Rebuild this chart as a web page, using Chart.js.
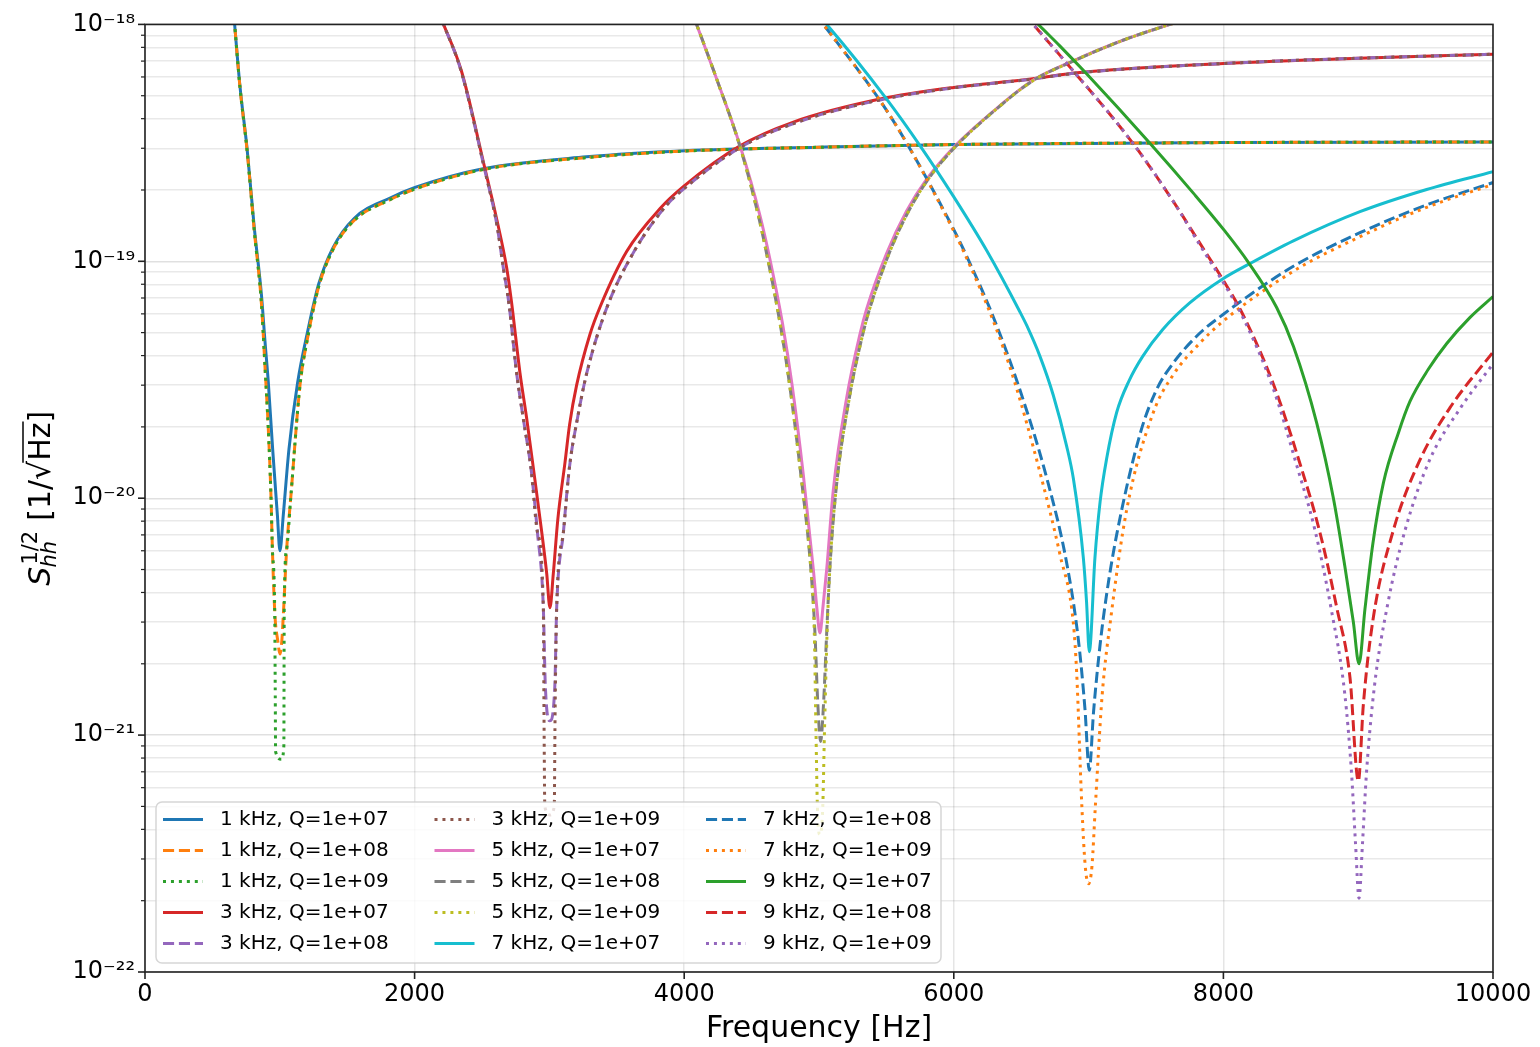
<!DOCTYPE html>
<html>
<head>
<meta charset="utf-8">
<title>Strain sensitivity of resonant modes</title>
<script src="https://cdn.jsdelivr.net/npm/chart.js@4.4.1/dist/chart.umd.min.js"></script>
<style>
  html, body { margin: 0; padding: 0; background: #ffffff; }
  #wrap { position: relative; width: 1540px; height: 1047px; }
  canvas { display: block; }
</style>
</head>
<body>
<div id="wrap"><canvas id="chart" width="1540" height="1047"></canvas></div>
<script>
// ---------------- data ----------------
const xTickValues = [0, 2000, 4000, 6000, 8000, 10000];
const yMajorValues = [1e-22, 1e-21, 1e-20, 1e-19, 1e-18];
const seriesLabels = [
  '1 kHz, Q=1e+07', '1 kHz, Q=1e+08', '1 kHz, Q=1e+09',
  '3 kHz, Q=1e+07', '3 kHz, Q=1e+08', '3 kHz, Q=1e+09',
  '5 kHz, Q=1e+07', '5 kHz, Q=1e+08', '5 kHz, Q=1e+09',
  '7 kHz, Q=1e+07', '7 kHz, Q=1e+08', '7 kHz, Q=1e+09',
  '9 kHz, Q=1e+07', '9 kHz, Q=1e+08', '9 kHz, Q=1e+09'
];

// 1 kHz
const f1k_q7 = [600, 640, 665, 705, 757, 811, 864, 890, 915, 947, 982, 1001, 1026, 1068, 1132, 1208, 1288, 1394, 1553, 1818, 2003, 2507, 3274, 4003, 5000, 6000, 8000, 10000];
const s1k_q7 = [2.4e-18, 1.5e-18, 1.0e-18, 5.45e-19, 3.0e-19, 1.38e-19, 7.2e-20, 4.6e-20, 3.07e-20, 1.61e-20, 8.5e-21, 6.0e-21, 8.5e-21, 1.61e-20, 3.07e-20, 5.1e-20, 8.0e-20, 1.14e-19, 1.52e-19, 1.85e-19, 2.05e-19, 2.46e-19, 2.76e-19, 2.93e-19, 3.03e-19, 3.11e-19, 3.17e-19, 3.19e-19];
const f1k_q8 = [600, 640, 665, 705, 757, 811, 864, 890, 917, 935, 945, 964, 985, 1001, 1015, 1026, 1051, 1081, 1150, 1208, 1288, 1394, 1553, 1818, 2003, 2507, 3274, 4003, 5000, 6000, 8000, 10000];
const s1k_q8 = [2.4e-18, 1.5e-18, 1.0e-18, 5.4e-19, 2.95e-19, 1.34e-19, 6.6e-20, 3.6e-20, 1.84e-20, 1.0e-20, 6.1e-21, 3.2e-21, 2.5e-21, 2.2e-21, 2.5e-21, 3.2e-21, 6.1e-21, 1.0e-20, 3.0e-20, 4.8e-20, 7.8e-20, 1.12e-19, 1.49e-19, 1.82e-19, 2.02e-19, 2.44e-19, 2.74e-19, 2.92e-19, 3.03e-19, 3.11e-19, 3.17e-19, 3.19e-19];
const f1k_q9 = [600, 640, 665, 705, 757, 811, 864, 890, 917, 935, 945, 962, 966, 969, 1012, 1030, 1033, 1051, 1081, 1150, 1208, 1288, 1394, 1553, 1818, 2003, 2507, 3274, 4003, 5000, 6000, 8000, 10000];
const s1k_q9 = [2.4e-18, 1.5e-18, 1.0e-18, 5.4e-19, 2.95e-19, 1.34e-19, 6.6e-20, 3.6e-20, 1.84e-20, 1.0e-20, 6.1e-21, 3.4e-21, 1.6e-21, 8.5e-22, 7.9e-22, 9.0e-22, 3.6e-21, 6.1e-21, 1.0e-20, 3.0e-20, 4.8e-20, 7.8e-20, 1.12e-19, 1.49e-19, 1.82e-19, 2.02e-19, 2.44e-19, 2.74e-19, 2.92e-19, 3.03e-19, 3.11e-19, 3.17e-19, 3.19e-19];

// 3 kHz
const f3k_q7 = [2100, 2215, 2347, 2519, 2611, 2683, 2718, 2782, 2830, 2881, 2943, 2980, 3004, 3029, 3063, 3116, 3150, 3202, 3300, 3375, 3573, 3821, 4000, 4414, 4810, 5453, 6000, 6541, 6936, 8000, 9000, 10000];
const s3k_q7 = [1.45e-18, 1.0e-18, 6.37e-19, 2.5e-19, 1.49e-19, 9.4e-20, 6.8e-20, 3.37e-20, 2.2e-20, 1.34e-20, 7.2e-21, 4.81e-21, 3.45e-21, 4.8e-21, 8.2e-21, 1.42e-20, 2.05e-20, 3.0e-20, 4.9e-20, 6.4e-20, 1.1e-19, 1.67e-19, 2.08e-19, 3.07e-19, 3.87e-19, 4.84e-19, 5.42e-19, 5.85e-19, 6.26e-19, 6.84e-19, 7.2e-19, 7.48e-19];
const f3k_q8 = [2100, 2215, 2347, 2519, 2611, 2658, 2700, 2757, 2810, 2863, 2911, 2955, 2970, 3004, 3040, 3054, 3104, 3148, 3210, 3277, 3425, 3620, 3860, 4031, 4440, 4830, 5453, 6000, 6541, 6936, 8000, 9000, 10000];
const s3k_q8 = [1.45e-18, 1.0e-18, 6.3e-19, 2.45e-19, 1.42e-19, 9.4e-20, 6.6e-20, 3.37e-20, 2.1e-20, 1.34e-20, 7.2e-21, 3.45e-21, 1.6e-21, 1.15e-21, 1.6e-21, 3.45e-21, 7.2e-21, 1.34e-20, 2.2e-20, 3.37e-20, 6.35e-20, 1.08e-19, 1.7e-19, 2.1e-19, 3.08e-19, 3.85e-19, 4.8e-19, 5.4e-19, 5.84e-19, 6.25e-19, 6.84e-19, 7.2e-19, 7.48e-19];
const f3k_q9 = [2100, 2215, 2347, 2519, 2611, 2658, 2700, 2757, 2810, 2863, 2911, 2955, 2960, 2966, 3004, 3036, 3042, 3054, 3104, 3148, 3210, 3277, 3425, 3620, 3860, 4031, 4440, 4830, 5453, 6000, 6541, 6936, 8000, 9000, 10000];
const s3k_q9 = [1.45e-18, 1.0e-18, 6.3e-19, 2.45e-19, 1.42e-19, 9.4e-20, 6.6e-20, 3.37e-20, 2.1e-20, 1.34e-20, 7.2e-21, 3.45e-21, 1.2e-21, 5.0e-22, 4.6e-22, 5.0e-22, 1.2e-21, 3.45e-21, 7.2e-21, 1.34e-20, 2.2e-20, 3.37e-20, 6.35e-20, 1.08e-19, 1.7e-19, 2.1e-19, 3.08e-19, 3.85e-19, 4.8e-19, 5.4e-19, 5.84e-19, 6.25e-19, 6.84e-19, 7.2e-19, 7.48e-19];

// 5 kHz
const f5k_q7 = [3950, 4092, 4241, 4414, 4562, 4636, 4730, 4800, 4884, 4958, 4985, 5007, 5030, 5057, 5106, 5205, 5304, 5353, 5502, 5650, 5799, 6000, 6293, 6590, 6887, 7250, 7604, 7900];
const s5k_q7 = [1.62e-18, 1.0e-18, 5.88e-19, 3.08e-19, 1.56e-19, 1.02e-19, 5.43e-20, 3.01e-20, 1.25e-20, 5.0e-21, 3.4e-21, 2.7e-21, 3.5e-21, 5.0e-21, 1.08e-20, 2.65e-20, 4.93e-20, 6.28e-20, 1.08e-19, 1.63e-19, 2.22e-19, 3.03e-19, 4.3e-19, 5.82e-19, 7.02e-19, 8.55e-19, 1.0e-18, 1.12e-18];
const f5k_q8 = [3950, 4092, 4241, 4414, 4550, 4620, 4712, 4782, 4866, 4940, 4970, 4990, 5012, 5035, 5057, 5080, 5126, 5225, 5325, 5375, 5520, 5665, 5810, 6008, 6293, 6590, 6887, 7250, 7604, 7900];
const s5k_q8 = [1.62e-18, 1.0e-18, 5.88e-19, 3.05e-19, 1.56e-19, 1.02e-19, 5.43e-20, 3.01e-20, 1.25e-20, 5.0e-21, 2.7e-21, 1.4e-21, 9.4e-22, 1.4e-21, 2.7e-21, 5.0e-21, 1.08e-20, 2.65e-20, 4.93e-20, 6.28e-20, 1.08e-19, 1.63e-19, 2.22e-19, 3.03e-19, 4.28e-19, 5.8e-19, 7.0e-19, 8.55e-19, 1.0e-18, 1.12e-18];
const f5k_q9 = [3950, 4092, 4241, 4414, 4550, 4620, 4712, 4782, 4866, 4940, 4965, 4978, 4988, 5005, 5028, 5040, 5060, 5080, 5126, 5225, 5325, 5375, 5520, 5665, 5810, 6008, 6293, 6590, 6887, 7250, 7604, 7900];
const s5k_q9 = [1.62e-18, 1.0e-18, 5.88e-19, 3.05e-19, 1.56e-19, 1.02e-19, 5.43e-20, 3.01e-20, 1.25e-20, 5.0e-21, 2.7e-21, 1.0e-21, 5.0e-22, 3.8e-22, 5.0e-22, 1.0e-21, 2.7e-21, 5.0e-21, 1.08e-20, 2.65e-20, 4.93e-20, 6.28e-20, 1.08e-19, 1.63e-19, 2.22e-19, 3.03e-19, 4.28e-19, 5.8e-19, 7.0e-19, 8.55e-19, 1.0e-18, 1.12e-18];

// 7 kHz
const f7k_q7 = [4900, 5057, 5502, 5749, 6000, 6244, 6491, 6541, 6640, 6738, 6837, 6887, 6961, 6985, 7005, 7047, 7085, 7134, 7208, 7300, 7400, 7550, 7750, 8000, 8185, 8519, 9013, 9508, 10000];
const s7k_q7 = [1.25e-18, 1.0e-18, 4.84e-19, 3.08e-19, 1.87e-19, 1.11e-19, 6.11e-20, 5.36e-20, 3.96e-20, 2.72e-20, 1.66e-20, 1.21e-20, 5.6e-21, 3.63e-21, 2.25e-21, 5.6e-21, 9.62e-21, 1.47e-20, 2.3e-20, 3.13e-20, 3.96e-20, 5.15e-20, 6.67e-20, 8.46e-20, 9.7e-20, 1.22e-19, 1.62e-19, 2.01e-19, 2.39e-19];
const f7k_q8 = [4900, 5032, 5457, 5650, 6000, 6096, 6293, 6491, 6689, 6837, 6924, 6973, 7005, 7037, 7085, 7134, 7208, 7381, 7500, 7628, 7826, 8000, 8173, 8519, 9013, 9508, 10000];
const s7k_q8 = [1.25e-18, 1.0e-18, 4.73e-19, 3.16e-19, 1.36e-19, 1.05e-19, 5.82e-20, 2.86e-20, 1.22e-20, 5.34e-21, 2.53e-21, 1.29e-21, 7.1e-22, 1.26e-21, 2.4e-21, 3.94e-21, 7.0e-21, 1.86e-20, 2.84e-20, 3.72e-20, 4.98e-20, 5.98e-20, 7.06e-20, 9.53e-20, 1.32e-19, 1.73e-19, 2.15e-19];
const f7k_q9 = [4900, 5032, 5457, 5650, 6000, 6096, 6293, 6442, 6640, 6788, 6887, 6911, 6950, 6975, 7000, 7025, 7050, 7100, 7165, 7282, 7480, 7628, 7826, 8000, 8519, 9013, 9508, 10000];
const s7k_q9 = [1.25e-18, 1.0e-18, 4.73e-19, 3.16e-19, 1.34e-19, 1.03e-19, 5.6e-20, 3.22e-20, 1.28e-20, 5.77e-21, 2.96e-21, 1.86e-21, 5.0e-22, 2.8e-22, 2.36e-22, 2.8e-22, 5.0e-22, 1.46e-21, 3.13e-21, 8.9e-21, 2.3e-20, 3.32e-20, 4.52e-20, 5.6e-20, 9.08e-20, 1.27e-19, 1.69e-19, 2.11e-19];

// 9 kHz
const f9k_q7 = [6480, 6627, 6788, 6973, 7455, 7777, 8007, 8185, 8395, 8520, 8692, 8816, 8900, 8964, 9006, 9050, 9110, 9187, 9300, 9384, 9520, 9657, 9830, 10000];
const s9k_q7 = [1.22e-18, 1.0e-18, 8.1e-19, 6.29e-19, 3.15e-19, 1.94e-19, 1.35e-19, 9.9e-20, 6.38e-20, 4.37e-20, 2.08e-20, 1.0e-20, 5.2e-21, 3.0e-21, 2.0e-21, 3.4e-21, 6.5e-21, 1.16e-20, 1.9e-20, 2.56e-20, 3.5e-20, 4.5e-20, 5.8e-20, 7.1e-20];
const f9k_q8 = [6450, 6590, 6788, 7332, 7628, 7826, 8007, 8135, 8370, 8568, 8717, 8841, 8939, 9001, 9038, 9112, 9260, 9458, 9681, 10000];
const s9k_q8 = [1.25e-18, 1.0e-18, 7.4e-19, 3.13e-19, 1.79e-19, 1.19e-19, 8.17e-20, 6.11e-20, 3.04e-20, 1.4e-20, 7.13e-21, 3.45e-21, 1.75e-21, 6.4e-22, 1.34e-21, 3.13e-21, 7.3e-21, 1.45e-20, 2.41e-20, 4.14e-20];
const f9k_q9 = [6450, 6590, 6788, 7332, 7628, 7826, 8007, 8135, 8370, 8540, 8680, 8800, 8900, 8950, 8980, 9006, 9032, 9062, 9120, 9220, 9347, 9530, 9760, 10000];
const s9k_q9 = [1.25e-18, 1.0e-18, 7.4e-19, 3.13e-19, 1.79e-19, 1.17e-19, 8.0e-20, 5.95e-20, 2.9e-20, 1.4e-20, 7.3e-21, 3.4e-21, 1.5e-21, 7.0e-22, 3.5e-22, 2.05e-22, 3.5e-22, 7.0e-22, 1.6e-21, 3.6e-21, 7.3e-21, 1.45e-20, 2.41e-20, 3.69e-20];

const seriesData = [
  [f1k_q7, s1k_q7], [f1k_q8, s1k_q8], [f1k_q9, s1k_q9],
  [f3k_q7, s3k_q7], [f3k_q8, s3k_q8], [f3k_q9, s3k_q9],
  [f5k_q7, s5k_q7], [f5k_q8, s5k_q8], [f5k_q9, s5k_q9],
  [f7k_q7, s7k_q7], [f7k_q8, s7k_q8], [f7k_q9, s7k_q9],
  [f9k_q7, s9k_q7], [f9k_q8, s9k_q8], [f9k_q9, s9k_q9]
];

// ---------------- styles ----------------
const TAB = {
  blue: '#1f77b4', orange: '#ff7f0e', green: '#2ca02c', red: '#d62728', purple: '#9467bd',
  brown: '#8c564b', pink: '#e377c2', gray: '#7f7f7f', olive: '#bcbd22', cyan: '#17becf'
};
const SOLID = [], DASHED = [11.1, 4.8], DOTTED = [3, 4.95];
const seriesStyles = [
  {color: TAB.blue, dash: SOLID}, {color: TAB.orange, dash: DASHED}, {color: TAB.green, dash: DOTTED},
  {color: TAB.red, dash: SOLID}, {color: TAB.purple, dash: DASHED}, {color: TAB.brown, dash: DOTTED},
  {color: TAB.pink, dash: SOLID}, {color: TAB.gray, dash: DASHED}, {color: TAB.olive, dash: DOTTED},
  {color: TAB.cyan, dash: SOLID}, {color: TAB.blue, dash: DASHED}, {color: TAB.orange, dash: DOTTED},
  {color: TAB.green, dash: SOLID}, {color: TAB.red, dash: DASHED}, {color: TAB.purple, dash: DOTTED}
];

const FONT = '"DejaVu Sans", "Liberation Sans", sans-serif';
Chart.defaults.font.family = FONT;
Chart.defaults.color = '#000';

function isMajor(v) {
  const l = Math.log10(v);
  return Math.abs(l - Math.round(l)) < 1e-6;
}
const SUP = {'-': '\u207B', '0': '\u2070', '1': '\u00B9', '2': '\u00B2', '3': '\u00B3', '4': '\u2074',
             '5': '\u2075', '6': '\u2076', '7': '\u2077', '8': '\u2078', '9': '\u2079'};
function sup(n) { return String(n).split('').map(c => SUP[c] || c).join(''); }

const N = seriesLabels.length;
const datasets = seriesLabels.map((label, i) => ({
  label,
  data: seriesData[i][0].map((f, k) => ({x: f, y: seriesData[i][1][k]})),
  borderColor: seriesStyles[i].color,
  backgroundColor: seriesStyles[i].color,
  borderDash: seriesStyles[i].dash,
  borderWidth: 3,
  borderCapStyle: 'butt',
  borderJoinStyle: 'round',
  pointRadius: 0,
  pointHoverRadius: 0,
  fill: false,
  cubicInterpolationMode: 'monotone',
  tension: 0.4,
  order: N - i
}));

function drawLegend(chart) {
  const ctx = chart.ctx;
  const bx = 156, by = 802, bw = 785, bh = 161, br = 6;
  ctx.save();
  ctx.beginPath();
  if (ctx.roundRect) ctx.roundRect(bx, by, bw, bh, br); else ctx.rect(bx, by, bw, bh);
  ctx.fillStyle = 'rgba(255,255,255,0.8)';
  ctx.fill();
  ctx.lineWidth = 1.5;
  ctx.strokeStyle = 'rgba(204,204,204,0.8)';
  ctx.stroke();
  chart.data.datasets.forEach((ds, i) => {
    const col = Math.floor(i / 5), row = i % 5;
    const x0 = 163 + col * 271.5, y = 819.5 + row * 31;
    ctx.beginPath();
    ctx.setLineDash(ds.borderDash || []);
    ctx.lineCap = 'butt';
    ctx.strokeStyle = ds.borderColor;
    ctx.lineWidth = 3;
    ctx.moveTo(x0, y);
    ctx.lineTo(x0 + 40, y);
    ctx.stroke();
    ctx.setLineDash([]);
    ctx.fillStyle = '#000';
    ctx.font = '20px ' + FONT;
    ctx.textBaseline = 'middle';
    ctx.textAlign = 'left';
    ctx.fillText(ds.label, x0 + 57, y);
  });
  ctx.restore();
}

function drawYTitle(ctx, a) {
  const big = 30, small = 21;
  ctx.save();
  ctx.translate(50, (a.top + a.bottom) / 2);
  ctx.rotate(-Math.PI / 2);
  ctx.fillStyle = '#000';
  ctx.strokeStyle = '#000';
  ctx.textBaseline = 'alphabetic';
  ctx.textAlign = 'left';
  const fBig = big + 'px ' + FONT, fBigI = 'italic ' + big + 'px ' + FONT;
  const fSm = small + 'px ' + FONT, fSmI = 'italic ' + small + 'px ' + FONT;
  ctx.font = fBigI; const wS = ctx.measureText('S').width;
  ctx.font = fSm; const wSup = ctx.measureText('1/2').width;
  ctx.font = fSmI; const wSub = ctx.measureText('hh').width;
  ctx.font = fBig;
  const wOpen = ctx.measureText('[1/').width;
  const wRad = ctx.measureText('\u221A').width;
  const wHz = ctx.measureText('Hz').width;
  const wClose = ctx.measureText(']').width;
  const gap = 10;
  const total = wS + 2 + Math.max(wSup, wSub) + gap + wOpen + wRad + wHz + wClose;
  let u = -total / 2;
  ctx.font = fBigI; ctx.fillText('S', u, 0); u += wS + 2;
  ctx.font = fSm; ctx.fillText('1/2', u, -13);
  ctx.font = fSmI; ctx.fillText('hh', u - 3, 6);
  u += Math.max(wSup, wSub) + gap;
  ctx.font = fBig; ctx.fillText('[1/', u, 0); u += wOpen;
  ctx.fillText('\u221A', u, 0); u += wRad;
  ctx.fillText('Hz', u, 0);
  ctx.lineWidth = 1.5;
  ctx.beginPath(); ctx.moveTo(u - 2, -27); ctx.lineTo(u + wHz + 1, -27); ctx.stroke();
  u += wHz;
  ctx.fillText(']', u, 0);
  ctx.restore();
}

const decorPlugin = {
  id: 'decor',
  afterDatasetsDraw(chart) {
    const {ctx, chartArea: a, scales} = chart;
    ctx.save();
    ctx.strokeStyle = '#222';
    scales.y.ticks.forEach(t => {
      const y = scales.y.getPixelForValue(t.value);
      const maj = isMajor(t.value);
      ctx.lineWidth = maj ? 1.6 : 1.2;
      const len = maj ? 7 : 4;
      ctx.beginPath(); ctx.moveTo(a.left - len, y); ctx.lineTo(a.left, y); ctx.stroke();
    });
    scales.x.ticks.forEach(t => {
      const x = scales.x.getPixelForValue(t.value);
      ctx.lineWidth = 1.6;
      ctx.beginPath(); ctx.moveTo(x, a.bottom); ctx.lineTo(x, a.bottom + 7); ctx.stroke();
    });
    ctx.lineWidth = 1.6;
    ctx.strokeRect(a.left, a.top, a.right - a.left, a.bottom - a.top);
    ctx.restore();
  },
  afterDraw(chart) {
    drawLegend(chart);
    drawYTitle(chart.ctx, chart.chartArea);
  }
};

new Chart(document.getElementById('chart'), {
  type: 'line',
  data: {datasets},
  options: {
    responsive: false,
    animation: false,
    devicePixelRatio: 1,
    events: [],
    layout: {padding: {left: 0, right: 47, top: 20, bottom: 0}},
    elements: {line: {capBezierPoints: false}},
    plugins: {legend: {display: false}, tooltip: {enabled: false}},
    scales: {
      x: {
        type: 'linear', min: 0, max: 10000,
        afterBuildTicks: s => { s.ticks = xTickValues.map(v => ({value: v})); },
        afterFit: s => { s.height = 75; },
        ticks: {font: {size: 24}, color: '#000', padding: 8, maxRotation: 0, autoSkip: false,
                callback: v => String(v)},
        grid: {color: 'rgba(0,0,0,0.1)', lineWidth: 1.5, drawTicks: false},
        border: {display: false},
        title: {display: true, text: 'Frequency [Hz]', font: {size: 30}, color: '#000',
                padding: {top: 0, bottom: 0}}
      },
      y: {
        type: 'logarithmic', min: 1e-22, max: 1e-18,
        afterBuildTicks: s => {
          const t = [];
          for (let k = 0; k < yMajorValues.length - 1; k++) {
            for (let m = 1; m <= 9; m++) t.push({value: m * yMajorValues[k]});
          }
          t.push({value: yMajorValues[yMajorValues.length - 1]});
          s.ticks = t;
        },
        afterFit: s => { s.width = 145; },
        ticks: {font: {size: 24}, color: '#000', padding: 10, autoSkip: false,
                callback: v => isMajor(v) ? '10' + sup(Math.round(Math.log10(v))) : ''},
        grid: {
          color: c => (c.tick && isMajor(c.tick.value)) ? 'rgba(0,0,0,0.12)' : 'rgba(0,0,0,0.085)',
          lineWidth: 1.4,
          drawTicks: false
        },
        border: {display: false}
      }
    }
  },
  plugins: [decorPlugin]
});
</script>
</body>
</html>
